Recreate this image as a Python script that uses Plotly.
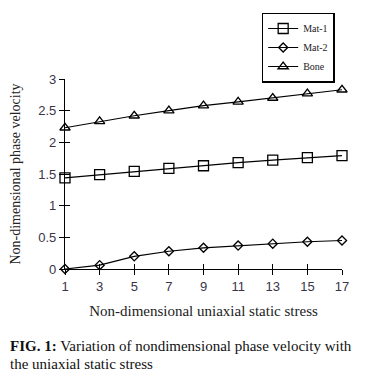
import plotly.graph_objects as go

x_vals = [1, 3, 5, 7, 9, 11, 13, 15, 17]
mat1 = [1.44, 1.49, 1.54, 1.59, 1.63, 1.68, 1.72, 1.76, 1.79]
mat2 = [0.0, 0.06, 0.20, 0.28, 0.335, 0.37, 0.40, 0.43, 0.45]
bone = [2.23, 2.33, 2.42, 2.50, 2.58, 2.64, 2.70, 2.77, 2.83]
series_names = ["Mat-1", "Mat-2", "Bone"]
x_ticks = [1, 3, 5, 7, 9, 11, 13, 15, 17]
y_ticks = [0, 0.5, 1, 1.5, 2, 2.5, 3]
y_tick_labels = ["0", "0.5", "1", "1.5", "2", "2.5", "3"]

serif = "Liberation Serif, Times New Roman, serif"
sans = "Liberation Sans, Arial, sans-serif"

fig = go.Figure()
symbols = ["square-open", "diamond-open", "triangle-up-open"]
sizes = [10, 7, 9]
for name, ys, sym, sz in zip(series_names, [mat1, mat2, bone], symbols, sizes):
    fig.add_trace(go.Scatter(
        x=x_vals, y=ys, name=name, mode="lines+markers",
        line=dict(color="black", width=1.2),
        marker=dict(symbol=sym, size=sz, color="black", line=dict(width=1.3, color="black")),
        cliponaxis=False,
    ))

# invisible trace to create crossing-tick companion axes
fig.add_trace(go.Scatter(x=[x_vals[0]], y=[y_ticks[0]], xaxis="x2", yaxis="y2",
                         mode="markers", marker=dict(opacity=0), showlegend=False,
                         hoverinfo="skip"))

fig.update_layout(
    width=376, height=379,
    margin=dict(l=65, r=34, t=75, b=110),
    paper_bgcolor="white", plot_bgcolor="white",
    showlegend=True,
    legend=dict(
        x=0.71, y=1.35, xanchor="left", yanchor="top",
        bordercolor="black", borderwidth=1.5, bgcolor="white",
        font=dict(family=serif, size=10, color="#222"),
        itemwidth=30, tracegroupgap=0,
    ),
    xaxis=dict(
        range=[1, 17], tickmode="array", tickvals=x_ticks,
        ticktext=[str(v) for v in x_ticks],
        showgrid=False, zeroline=False, showline=True, linecolor="black", linewidth=1.3,
        ticks="outside", ticklen=5, tickwidth=1.3, tickcolor="black",
        tickfont=dict(family=sans, size=13, color="#3a3448"),
        title=dict(text="Non-dimensional uniaxial static stress",
                   font=dict(family=serif, size=15, color="#222"), standoff=12),
    ),
    yaxis=dict(
        range=[0, 3], tickmode="array", tickvals=y_ticks, ticktext=y_tick_labels,
        showgrid=False, zeroline=False, showline=True, linecolor="black", linewidth=1.3,
        ticks="outside", ticklen=5, tickwidth=1.3, tickcolor="black",
        tickfont=dict(family=sans, size=13, color="#3a3448"),
        title=dict(text="Non-dimensional phase velocity",
                   font=dict(family=serif, size=14, color="#222"), standoff=14),
    ),
    xaxis2=dict(range=[1, 17], overlaying="x", anchor="y2", side="bottom",
                tickmode="array", tickvals=x_ticks, showticklabels=False,
                ticks="inside", ticklen=5, tickwidth=1.3, tickcolor="black",
                showgrid=False, zeroline=False, showline=False),
    yaxis2=dict(range=[0, 3], overlaying="y", anchor="x2", side="left",
                tickmode="array", tickvals=y_ticks, showticklabels=False,
                ticks="inside", ticklen=5, tickwidth=1.3, tickcolor="black",
                showgrid=False, zeroline=False, showline=False),
)

fig.add_annotation(
    xref="paper", yref="paper", x=-0.207, y=-0.405, xanchor="left", yanchor="middle",
    text="<b>FIG. 1:</b> Variation of nondimensional phase velocity with",
    showarrow=False, font=dict(family=serif, size=15, color="#111"), align="left",
)
fig.add_annotation(
    xref="paper", yref="paper", x=-0.207, y=-0.50, xanchor="left", yanchor="middle",
    text="the uniaxial static stress",
    showarrow=False, font=dict(family=serif, size=15, color="#111"), align="left",
)

fig.write_html("out.html", config={"displayModeBar": False},
               post_script="document.body.style.margin='0';")
